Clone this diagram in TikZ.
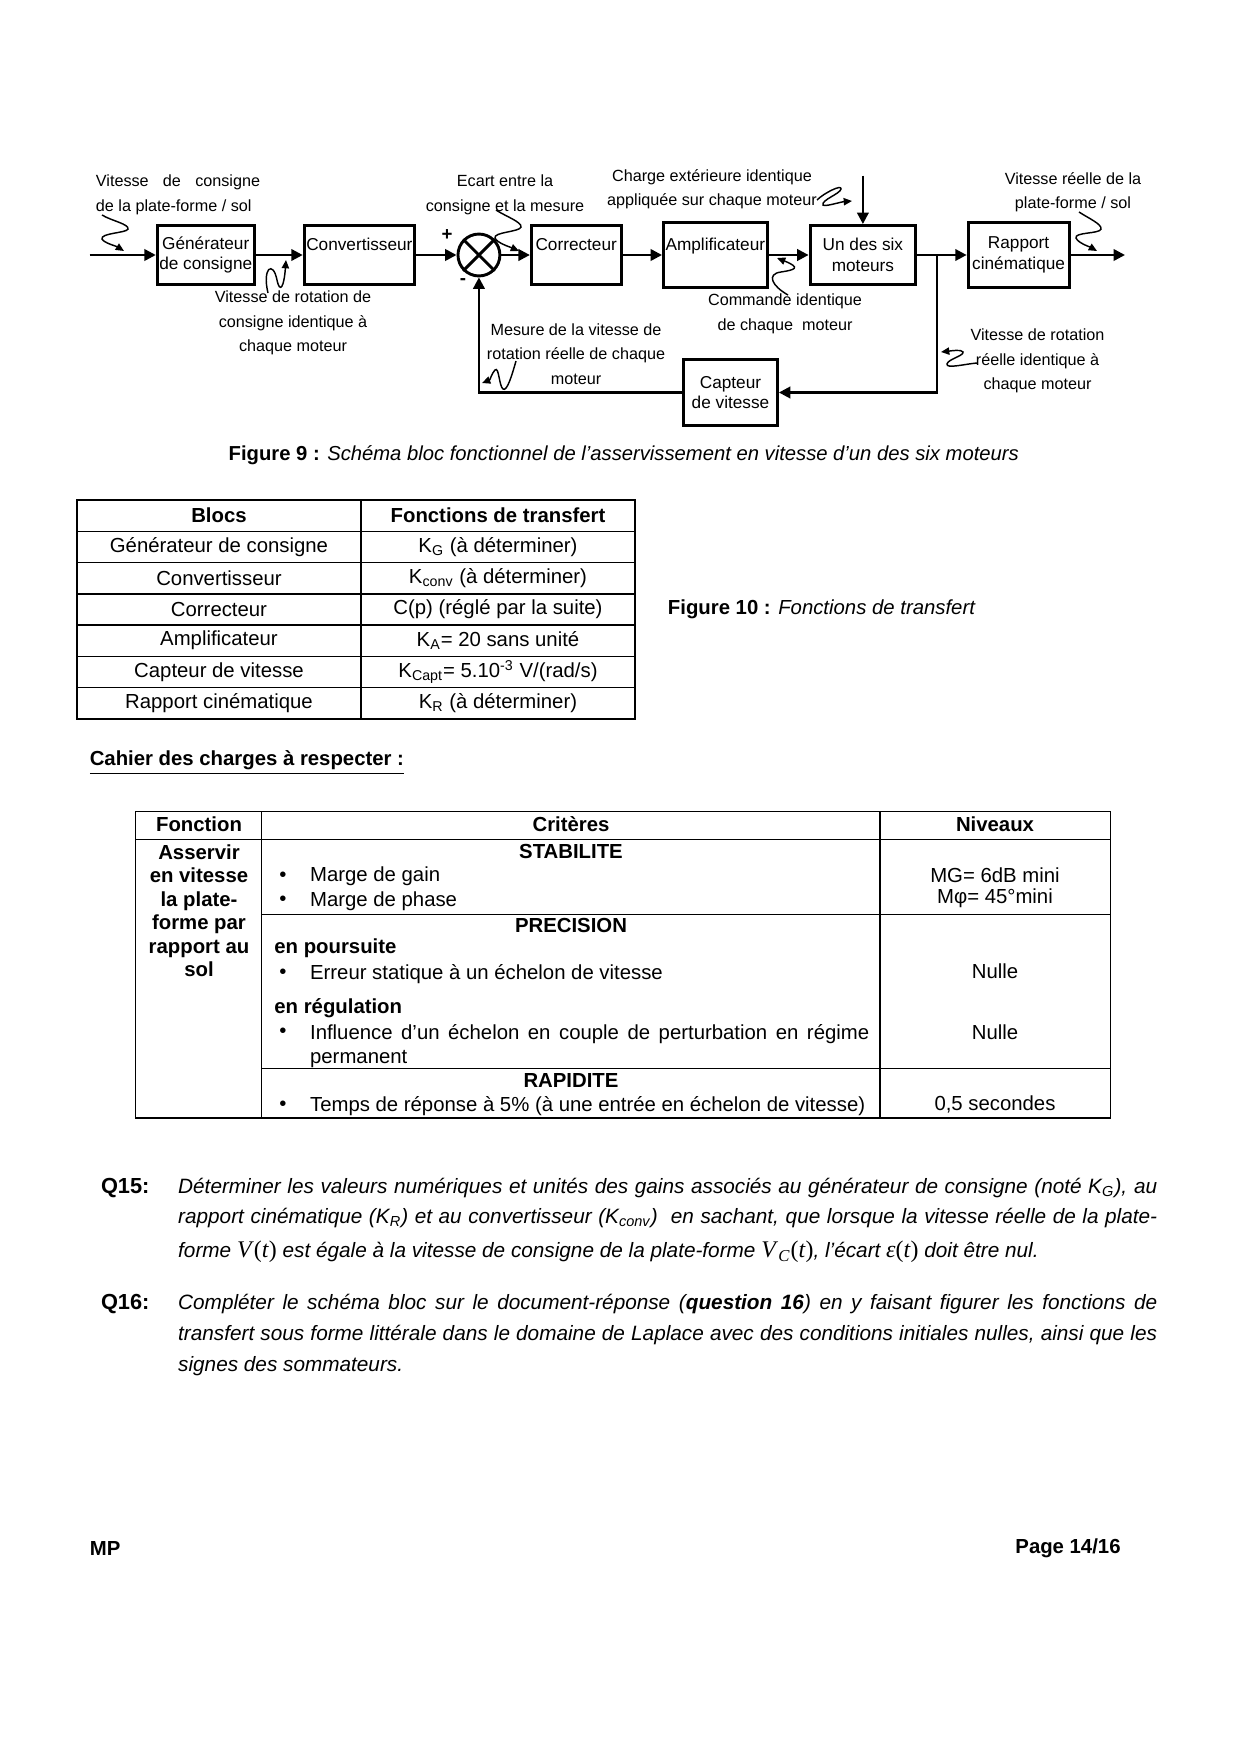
\documentclass[tikz,border=0pt]{standalone}
\usepackage{fontspec}
\setmainfont{Liberation Sans}
\newfontfamily\tms{Liberation Serif}
\usetikzlibrary{arrows.meta,positioning}
\tikzset{
 bloc/.style={draw,line width=1.4pt,align=center,inner sep=1pt,minimum height=10mm,
   font=\fontsize{8.3}{10}\selectfont},
 somme/.style={draw,circle,line width=1.4pt,minimum size=7.1mm,inner sep=0pt},
 signe/.style={inner sep=0pt,font=\fontsize{9}{10}\selectfont\bfseries},
 fleche/.style={-{Triangle[length=5.5pt,width=5.5pt]},line width=1.2pt},
 onde/.style={-{Triangle[length=4pt,width=3.5pt]},line width=0.7pt},
 note/.style={align=center,inner sep=0pt,font=\fontsize{7.8}{11.8}\selectfont},
 trait/.style={line width=0.6pt},
 cell/.style={inner sep=0pt,font=\fontsize{9.8}{11.5}\selectfont},
 titre/.style={inner sep=0pt,font=\fontsize{9.8}{11.5}\selectfont\bfseries},
 texte/.style={inner sep=0pt,align=justify,text width=165.8mm,
   font=\fontsize{10}{14.8}\selectfont\itshape}
}
\begin{document}
\begin{tikzpicture}[x=0.016935cm,y=-0.016935cm]
 \path[fill=white] (0,0) rectangle (1240,1754);
 % schema bloc
 \node[bloc,minimum width=16.2mm] (gen) at (205.75,255) {Générateur\\de consigne};
 \node[bloc,minimum width=18.5mm,right=7.96mm of gen] (conv) {Convertisseur\\\mbox{}};
 \node[somme,right=6.86mm of conv] (som) {};
 \node[bloc,minimum width=15.2mm,right=4.83mm of som] (corr) {Correcteur\\\mbox{}};
 \node[bloc,minimum width=17.45mm,minimum height=11mm,right=6.69mm of corr] (ampl) {Amplificateur\\\mbox{}};
 \node[bloc,minimum width=17.9mm,right=6.77mm of ampl] (mot) {Un des six\\moteurs};
 \node[bloc,minimum width=17.1mm,minimum height=11mm,right=8.38mm of mot] (rap) {Rapport\\cinématique};
 \node[bloc,minimum width=15.9mm,minimum height=11.2mm] (capt) at (730.5,392.5) {Capteur\\de vitesse};
 \draw[line width=1.4pt] (som.north west) -- (som.south east) (som.north east) -- (som.south west);
 \node[signe] (plus) at (447,235) {+};
 \node[signe] (moins) at (463,282) {-};
 \coordinate (entree) at (89.5,255);
 \coordinate (noeud) at (937,255);
 \coordinate (sortie) at (1125,255);
 \coordinate[above=8.2mm of mot.north] (charge);
 \draw[fleche] (entree) -- (gen);
 \draw[fleche] (gen) -- (conv);
 \draw[fleche] (conv) -- (som);
 \draw[fleche] (som) -- (corr);
 \draw[fleche] (corr) -- (ampl);
 \draw[fleche] (ampl) -- (mot);
 \draw[fleche] (mot) -- (rap);
 \draw[fleche] (rap) -- (sortie);
 \draw[fleche] (charge) -- (mot);
 \draw[fleche] (noeud) |- (capt);
 \draw[fleche] (capt) -| (som);
 % annotations
 \node[note,text width=27.8mm,align=justify] (vc) at (178,195) {Vitesse de consigne\linebreak de la plate-forme / sol};
 \node[note] (ecart) at (505,195) {Ecart entre la\\consigne et la mesure};
 \node[note] (chg) at (712,189) {Charge extérieure identique\\appliquée sur chaque moteur};
 \node[note] (vreel) at (1073,192) {Vitesse réelle de la\\plate-forme / sol};
 \node[note] (vrc) at (293,323) {Vitesse de rotation de\\consigne identique à\\chaque moteur};
 \node[note] (cmd) at (785,314) {Commande identique\\de chaque~ moteur};
 \node[note] (mes) at (576,354) {Mesure de la vitesse de\\rotation réelle de chaque\\moteur};
 \node[note] (vrr) at (1037.5,361) {Vitesse de rotation\\réelle identique à\\chaque moteur};
 \coordinate (s1a) at (102,215); \coordinate (s1b) at (124,251);
 \draw[onde] (s1a) .. controls (112,221) and (129,224) .. (128,229) .. controls (127,233) and (100,233) .. (102,239) .. controls (104,243) and (116,246) .. (s1b);
 \coordinate (s2a) at (268,293); \coordinate (s2b) at (286,260);
 \draw[onde] (s2a) .. controls (262,268) and (273,260) .. (277,280) .. controls (280,294) and (284,287) .. (s2b);
 \coordinate (s3a) at (496,210); \coordinate (s3b) at (519,251);
 \draw[onde] (s3a) .. controls (505,216) and (522,222) .. (521,227) .. controls (520,232) and (493,232) .. (495,238) .. controls (497,243) and (510,247) .. (s3b);
 \coordinate (s4a) at (817,200); \coordinate (s4b) at (852,201);
 \draw[onde] (s4a) .. controls (824,193) and (842,184) .. (841,189) .. controls (840,194) and (821,200) .. (823,205) .. controls (825,207) and (840,202) .. (s4b);
 \coordinate (s5a) at (788,295); \coordinate (s5b) at (777,258);
 \draw[onde] (s5a) .. controls (772,286) and (766,274) .. (781,272) .. controls (794,270) and (802,268) .. (s5b);
 \coordinate (s6a) at (516,361); \coordinate (s6b) at (482,383);
 \draw[onde] (s6a) .. controls (512,375) and (507,392) .. (503,389) .. controls (499,386) and (499,366) .. (495,370) .. controls (492,373) and (490,380) .. (s6b);
 \coordinate (s7a) at (977,363); \coordinate (s7b) at (941,352);
 \draw[onde] (s7a) .. controls (965,364) and (946,369) .. (947,364) .. controls (948,359) and (964,356) .. (963,352) .. controls (962,349) and (950,351) .. (s7b);
 \coordinate (s8a) at (1079,212); \coordinate (s8b) at (1097,251);
 \draw[onde] (s8a) .. controls (1088,218) and (1102,224) .. (1101,229) .. controls (1100,234) and (1074,232) .. (1076,238) .. controls (1078,243) and (1090,247) .. (s8b);
 \node[cell,font=\fontsize{9.75}{11.5}\selectfont] (fig9) at (623.8,455) {\textbf{Figure 9 :} \textit{Schéma bloc fonctionnel de l’asservissement en vitesse d’un des six moteurs}};
 % fonctions de transfert
 \draw[trait] (77,500) rectangle (635,719);
 \draw[trait] (361,500) -- (361,719);
 \draw[trait] (77,531.3) -- (635,531.3) (77,562.6) -- (635,562.6) (77,593.9) -- (635,593.9)
   (77,625.1) -- (635,625.1) (77,656.4) -- (635,656.4) (77,687.7) -- (635,687.7);
 \node[titre] (blocs) at (219,515.5) {Blocs};
 \node[titre] (fonctions) at (498,515.5) {Fonctions de transfert};
 \node[cell] (bgen) at (219,546.8) {Générateur de consigne};
 \node[cell] (fgen) at (498,546.8) {K\textsubscript{G} (à déterminer)};
 \node[cell] (bconv) at (219,578.1) {Convertisseur};
 \node[cell] (fconv) at (498,578.1) {K\textsubscript{conv} (à déterminer)};
 \node[cell] (bcorr) at (219,609.4) {Correcteur};
 \node[cell] (fcorr) at (498,609.4) {C(p) (réglé par la suite)};
 \node[cell] (bampl) at (219,640.7) {Amplificateur};
 \node[cell] (fampl) at (498,640.7) {K\textsubscript{A}= 20 sans unité};
 \node[cell] (bcapt) at (219,672) {Capteur de vitesse};
 \node[cell] (fcapt) at (498,672) {K\textsubscript{Capt}= 5.10\textsuperscript{-3} V/(rad/s)};
 \node[cell] (brap) at (219,703.3) {Rapport cinématique};
 \node[cell] (frap) at (498,703.3) {K\textsubscript{R} (à déterminer)};
 \node[cell,anchor=west] (fig10) at (667.5,609) {\textbf{Figure 10 :} \textit{Fonctions de transfert}};
 % cahier des charges
 \node[cell,anchor=west] (cahier) at (89.4,762.5) {\underline{\textbf{Cahier des charges à respecter :}}};
 \draw[trait] (135.3,811.7) rectangle (1110.2,1118);
 \draw[trait] (135.3,839.6) -- (1110.2,839.6) (261.6,914.5) -- (1110.2,914.5) (261.6,1068.8) -- (1110.2,1068.8);
 \draw[trait] (261.6,811.7) -- (261.6,1118) (880,811.7) -- (880,1118);
 \node[titre] (fonc) at (199,824) {Fonction};
 \node[titre] (crit) at (571,824) {Critères};
 \node[titre] (niv) at (995,824) {Niveaux};
 \node[titre,align=center,font=\fontsize{9.8}{11.3}\selectfont\bfseries] (asserv) at (199,910.7) {Asservir\\en vitesse\\la plate-\\forme par\\rapport au\\sol};
 \node[titre] (stab) at (571,851) {STABILITE};
 \node[cell] (pt1) at (283,876.5) {\textbullet};
 \node[cell,anchor=west] (gain) at (309.7,876.5) {Marge de gain};
 \node[cell] (pt2) at (283,901) {\textbullet};
 \node[cell,anchor=west] (phase) at (309.7,901) {Marge de phase};
 \node[cell] (mg) at (995,875.4) {MG= 6dB mini};
 \node[cell] (mphi) at (995,898) {Mφ= 45°mini};
 \node[titre] (prec) at (571,925.7) {PRECISION};
 \node[titre,anchor=west] (pours) at (274,948) {en poursuite};
 \node[cell] (pt3) at (283,973.8) {\textbullet};
 \node[cell,anchor=west] (erreur) at (309.7,973.8) {Erreur statique à un échelon de vitesse};
 \node[cell] (nul1) at (995,971.5) {Nulle};
 \node[titre,anchor=west] (regul) at (274,1008.4) {en régulation};
 \node[cell] (pt4) at (283,1033) {\textbullet};
 \node[cell,anchor=base west,text width=94.7mm,align=justify,font=\fontsize{9.8}{11.85}\selectfont] (influ) at (309.7,1039) {Influence d’un échelon en couple de perturbation en régime\linebreak permanent};
 \node[cell] (nul2) at (995,1032) {Nulle};
 \node[titre] (rapid) at (571,1080) {RAPIDITE};
 \node[cell] (pt5) at (283,1105.7) {\textbullet};
 \node[cell,anchor=west] (temps) at (309.7,1105.7) {Temps de réponse à 5\% (à une entrée en échelon de vitesse)};
 \node[cell] (sec) at (995,1104.6) {0,5 secondes};
 % questions
 \node[titre,anchor=base west,font=\fontsize{10.5}{12}\selectfont\bfseries] (q15) at (100.6,1193) {Q15:};
 \node[texte,anchor=base west] (t15) at (177.8,1193) {Déterminer les valeurs numériques et unités des gains associés au générateur de consigne (noté K\textsubscript{G}), au\linebreak
   rapport cinématique (K\textsubscript{R}) et au convertisseur (K\textsubscript{conv})~ en sachant, que lorsque la vitesse réelle de la plate-\linebreak
   \rule{0pt}{13.3pt}forme {\tms\upshape\fontsize{11.5}{14.8}\selectfont\textit{V}(\textit{t})} est égale à la vitesse de consigne de la plate-forme {\tms\upshape\fontsize{11.5}{14.8}\selectfont\textit{V}\textsubscript{\textit{C}}(\textit{t})}, l’écart {\tms\upshape\fontsize{11.5}{14.8}\selectfont\textit{ε}(\textit{t})} doit être nul.};
 \node[titre,anchor=base west,font=\fontsize{10.5}{12}\selectfont\bfseries] (q16) at (100.6,1309.6) {Q16:};
 \node[texte,anchor=base west] (t16) at (177.8,1309.6) {Compléter le schéma bloc sur le document-réponse (\textbf{question 16}) en y faisant figurer les fonctions de\linebreak
   transfert sous forme littérale dans le domaine de Laplace avec des conditions initiales nulles, ainsi que les\linebreak
   signes des sommateurs.};
 \node[titre,anchor=west] (mp) at (89.4,1548) {MP};
 \node[titre,anchor=east] (page) at (1121,1548) {Page 14/16};
\end{tikzpicture}
\end{document}
